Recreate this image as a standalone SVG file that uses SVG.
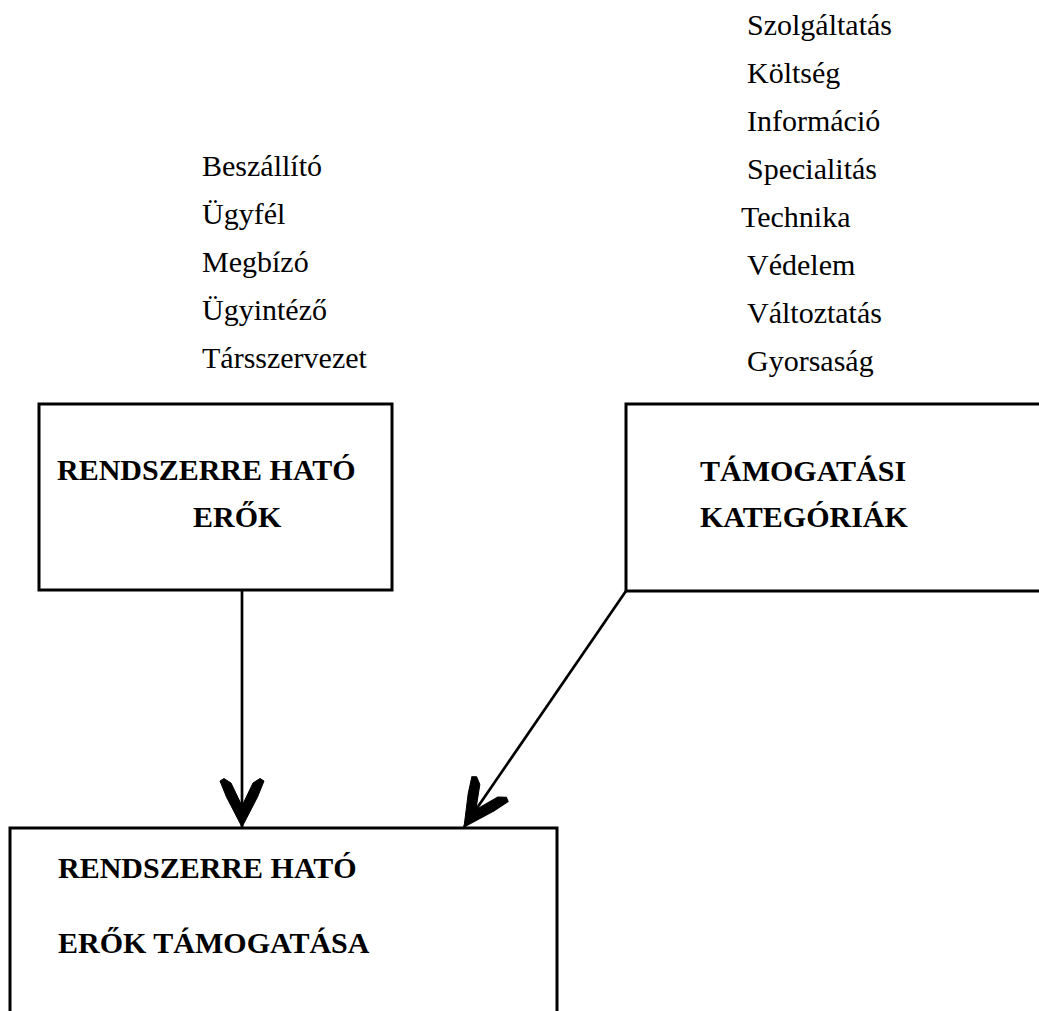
<svg xmlns="http://www.w3.org/2000/svg" width="1039" height="1011" viewBox="0 0 1039 1011">
  <style>
    .item { font-family: "Liberation Serif", "Times New Roman", serif; font-size: 30px; fill: #000; }
    .title { font-family: "Liberation Serif", "Times New Roman", serif; font-size: 30px; font-weight: bold; fill: #000; }
    .box { fill: none; stroke: #000; stroke-width: 3; }
    .link { stroke: #000; stroke-width: 2.7; fill: none; }
  </style>
  <defs>
    <!-- barbed arrowhead with blunt barb ends -->
    <marker id="head" markerUnits="userSpaceOnUse" viewBox="-52 -26 54 52" refX="0" refY="0" markerWidth="54" markerHeight="52" orient="auto">
      <path d="M0,0 L-30,-15.5 L-46,-22 L-48.5,-18 L-44,-11 L-21,0 L-44,11 L-48.5,18 L-46,22 L-30,15.5 Z" fill="#000" stroke="#000" stroke-width="1" stroke-linejoin="round"/>
    </marker>
  </defs>
  <rect width="1039" height="1011" fill="#fff"/>

  <!-- forces acting on the system -->
  <g id="forces-list">
    <text class="item" x="202" y="176">Beszállító</text>
    <text class="item" x="202" y="224">Ügyfél</text>
    <text class="item" x="202" y="272">Megbízó</text>
    <text class="item" x="202" y="320">Ügyintéző</text>
    <text class="item" x="202" y="368">Társszervezet</text>
  </g>

  <!-- support categories -->
  <g id="categories-list">
    <text class="item" x="747" y="35">Szolgáltatás</text>
    <text class="item" x="747" y="83">Költség</text>
    <text class="item" x="747" y="131">Információ</text>
    <text class="item" x="747" y="179">Specialitás</text>
    <text class="item" x="741" y="227">Technika</text>
    <text class="item" x="747" y="275">Védelem</text>
    <text class="item" x="747" y="323">Változtatás</text>
    <text class="item" x="747" y="371">Gyorsaság</text>
  </g>

  <g id="node-forces">
    <rect class="box" x="39" y="404" width="353" height="186"/>
    <text class="title" x="57" y="480">RENDSZERRE HATÓ</text>
    <text class="title" x="193" y="527">ERŐK</text>
  </g>

  <g id="node-categories">
    <rect class="box" x="626" y="404" width="430" height="187"/>
    <text class="title" x="700" y="481">TÁMOGATÁSI</text>
    <text class="title" x="700" y="527">KATEGÓRIÁK</text>
  </g>

  <g id="node-support">
    <rect class="box" x="10" y="828" width="547" height="200"/>
    <text class="title" x="58" y="878">RENDSZERRE HATÓ</text>
    <text class="title" x="58" y="953">ERŐK TÁMOGATÁSA</text>
  </g>

  <g id="connectors">
    <line class="link" x1="242" y1="590" x2="242" y2="827" marker-end="url(#head)"/>
    <line class="link" x1="626" y1="591" x2="464" y2="827" marker-end="url(#head)"/>
  </g>
</svg>
